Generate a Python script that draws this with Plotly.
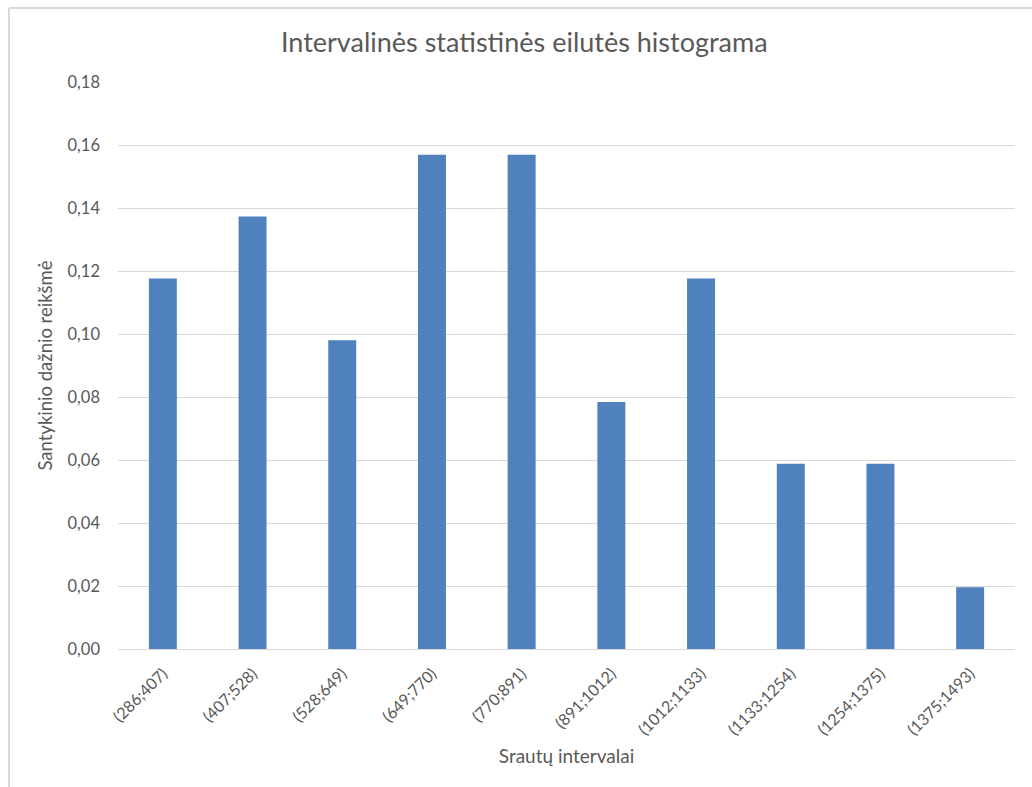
import plotly.graph_objects as go

categories = ["(286;407)", "(407;528)", "(528;649)", "(649;770)", "(770;891)",
              "(891;1012)", "(1012;1133)", "(1133;1254)", "(1254;1375)", "(1375;1493)"]
rel_freq = [0.1176, 0.1373, 0.0980, 0.1569, 0.1569, 0.0784, 0.1176, 0.0588, 0.0588, 0.0196]
y_ticks = [0.00, 0.02, 0.04, 0.06, 0.08, 0.10, 0.12, 0.14, 0.16, 0.18]

FONT = "Lato"
GRAY = "#595959"

fig = go.Figure(go.Bar(x=categories, y=rel_freq, marker=dict(color="#4f81bd", line=dict(width=0))))

L, R, T, B = 118, 17, 82, 138
W, H = 1032, 787
pw, ph = W - L - R, H - T - B
bx = (9 - L) / pw
by = 1 + (T - 8) / ph

fig.update_layout(
    width=W, height=H,
    margin=dict(l=L, r=R, t=T, b=B),
    paper_bgcolor="white", plot_bgcolor="white",
    separators=",.",
    bargap=0.688,
    font=dict(family=FONT, color=GRAY, size=16),
    title=dict(text="Intervalinės statistinės eilutės histograma", x=0.508, xanchor="center",
               y=1 - 43 / H, yanchor="middle", font=dict(size=27, color=GRAY, family=FONT)),
    xaxis=dict(title=dict(text="Srautų intervalai", font=dict(size=19, color=GRAY), standoff=12),
               tickangle=-45, showgrid=False, showline=True, linecolor="#d9d9d9",
               tickfont=dict(size=16, color=GRAY), ticks="", ticklabelstandoff=8),
    yaxis=dict(title=dict(text="Santykinio dažnio reikšmė", font=dict(size=18.5, color=GRAY), standoff=10),
               range=[0, 0.18], tickvals=y_ticks, tickformat=".2f", gridcolor="#d9d9d9",
               gridwidth=1, zeroline=False, showline=False, ticks="",
               tickfont=dict(size=16.5, color=GRAY), ticklabelstandoff=17),
    shapes=[dict(type="line", xref="paper", yref="paper", x0=bx, x1=bx, y0=-0.4, y1=by,
                 line=dict(color="#d9d9d9", width=2)),
            dict(type="line", xref="paper", yref="paper", x0=bx, x1=1.1, y0=by, y1=by,
                 line=dict(color="#d9d9d9", width=2))],
)

fig.write_html("out.html")
